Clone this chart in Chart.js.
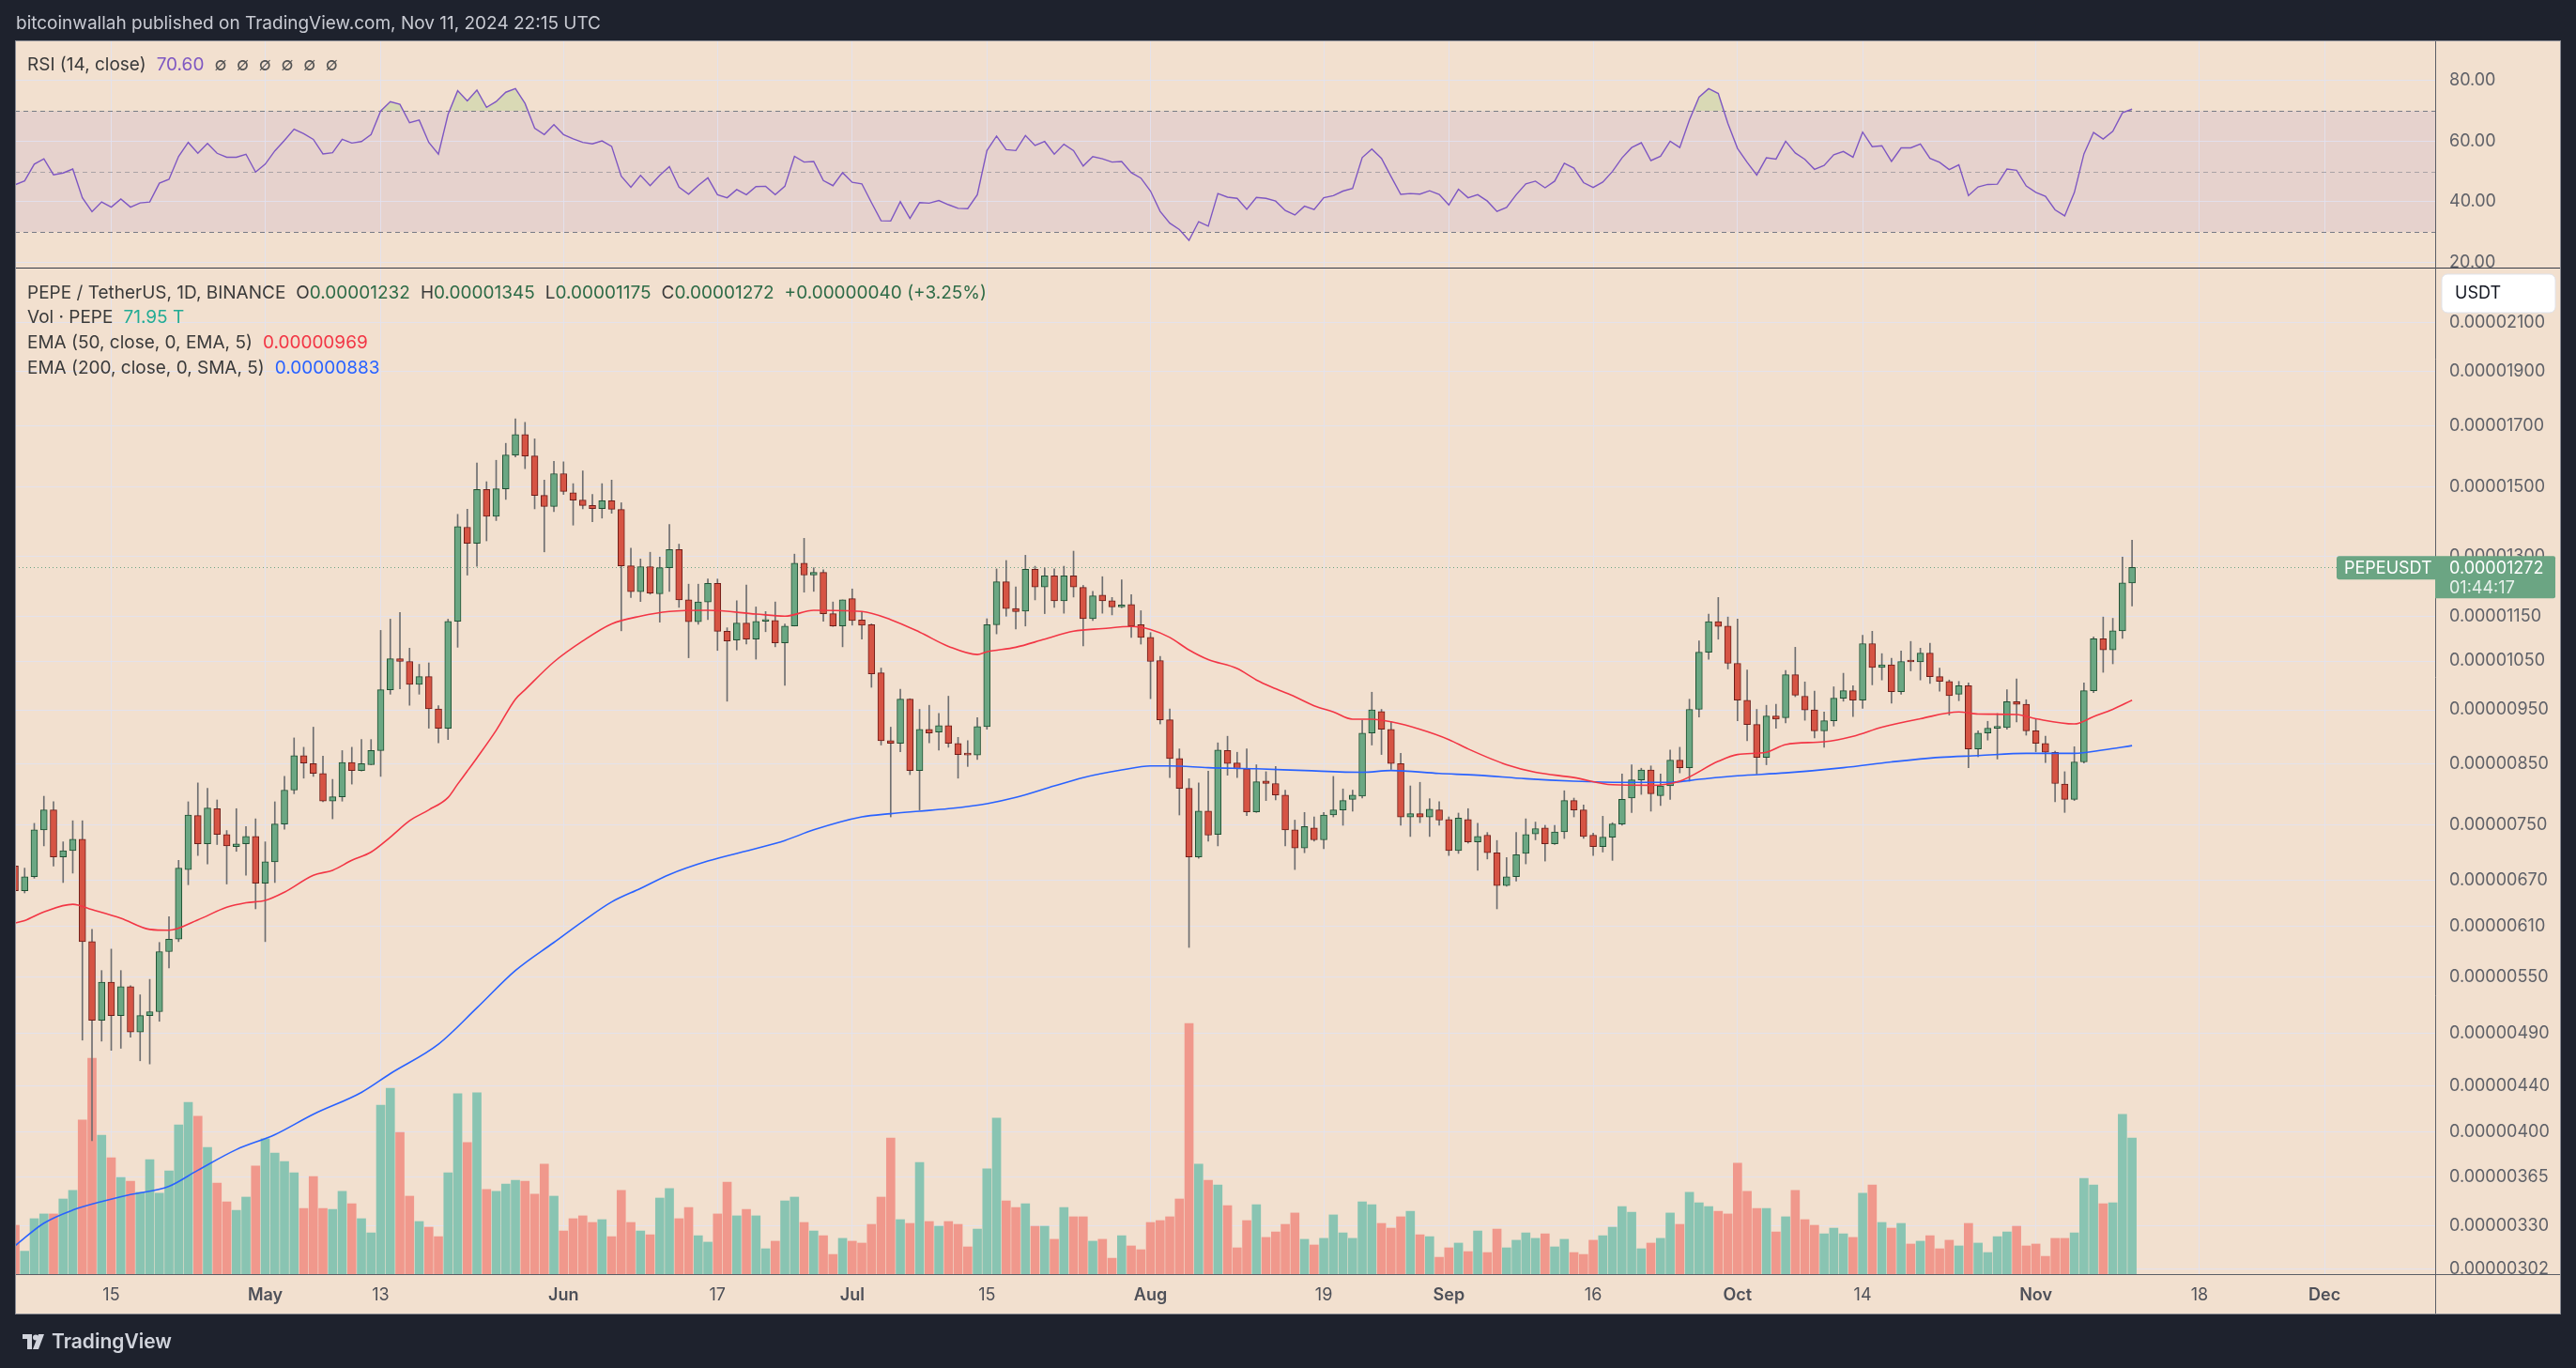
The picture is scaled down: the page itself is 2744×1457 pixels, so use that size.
<!DOCTYPE html>
<html>
<head>
<meta charset="utf-8">
<title>PEPE / TetherUS, 1D, BINANCE</title>
<script src="https://cdn.jsdelivr.net/npm/chart.js@4.4.1/dist/chart.umd.min.js"></script>
<style>
  html, body { margin: 0; padding: 0; background: #1e222d; }
  body { width: 2744px; height: 1457px; position: relative; overflow: hidden; font-family: Inter, "Noto Sans", sans-serif; }
  #chart { position: absolute; left: 0; top: 0; }
  .txt { position: absolute; white-space: pre; font-size: 19px; line-height: 24px; color: #3a3a3a; }
  .header { left: 17px; top: 13px; color: #c8cad2; }
  .gap { margin-left: 11px; }
  .up { color: #2e6b47; }
  .footer { left: 24px; top: 1417px; color: #d1d4dc; font-size: 21px; font-weight: 600; display: flex; align-items: center; }
  .footer svg { margin-right: 7px; }
</style>
</head>
<body>
<canvas id="chart" width="2744" height="1457"></canvas>

<div class="txt header">bitcoinwallah published on TradingView.com, Nov 11, 2024 22:15 UTC</div>
<div class="txt" style="left:29px; top:57px;">RSI (14, close)<span class="gap" style="color:#7e57c2">70.60</span><span class="gap" style="color:#555">∅  ∅  ∅  ∅  ∅  ∅</span></div>
<div class="txt" style="left:29px; top:300px;">PEPE / TetherUS, 1D, BINANCE<span class="gap">O</span><span class="up">0.00001232</span><span class="gap">H</span><span class="up">0.00001345</span><span class="gap">L</span><span class="up">0.00001175</span><span class="gap">C</span><span class="up">0.00001272</span><span class="gap up">+0.00000040 (+3.25%)</span></div>
<div class="txt" style="left:29px; top:326px;">Vol · PEPE<span class="gap" style="color:#22ab94">71.95 T</span></div>
<div class="txt" style="left:29px; top:353px;">EMA (50, close, 0, EMA, 5)<span class="gap" style="color:#f23645">0.00000969</span></div>
<div class="txt" style="left:29px; top:380px;">EMA (200, close, 0, SMA, 5)<span class="gap" style="color:#2962ff">0.00000883</span></div>
<div class="txt footer">
  <svg width="24" height="16" viewBox="0 0 24 16"><path d="M0 0h10v16H5V5H0z" fill="#d1d4dc"/><circle cx="14" cy="3.5" r="3" fill="#d1d4dc"/><path d="M17 0h6l-6 16h-6z" fill="#d1d4dc"/></svg>TradingView
</div>

<script>
// prices are in units of 0.00000001 USDT, one candle per day starting at firstDay
const UNIT = 1e-8;
const firstDay = '2024-04-05';

const open = [
  690, 656, 675, 743, 774, 703, 712, 729, 591, 503, 544, 508, 539, 491, 508, 512, 579, 594, 685, 765,
  722, 776, 736, 718, 722, 733, 666, 696, 752, 806, 865, 851, 834, 788, 795, 853, 839, 849, 874, 990,
  1055, 1049, 1001, 1017, 952, 915, 1139, 1381, 1336, 1492, 1412, 1494, 1601, 1670, 1598, 1474, 1441, 1541, 1482, 1460,
  1444, 1435, 1458, 1432, 1276, 1210, 1274, 1205, 1271, 1319, 1190, 1138, 1185, 1231, 1116, 1096, 1135, 1098, 1139, 1141,
  1090, 1128, 1283, 1252, 1259, 1157, 1128, 1193, 1142, 1131, 1025, 892, 887, 971, 839, 913, 908, 920, 887, 867,
  866, 918, 1131, 1235, 1169, 1163, 1267, 1222, 1250, 1188, 1250, 1221, 1145, 1202, 1188, 1173, 1179, 1131, 1102, 1051,
  931, 860, 809, 703, 772, 736, 874, 852, 842, 771, 821, 817, 798, 743, 716, 746, 728, 766, 774, 791,
  796, 906, 947, 913, 851, 763, 768, 763, 774, 759, 712, 759, 725, 735, 709, 663, 675, 708, 737, 746,
  722, 740, 789, 774, 735, 718, 732, 752, 793, 823, 840, 797, 813, 857, 844, 951, 1069, 1138, 1128, 1045,
  969, 922, 862, 938, 935, 1021, 977, 950, 910, 929, 973, 988, 969, 1088, 1036, 1042, 986, 1049, 1048, 1067,
  1017, 1007, 981, 998, 877, 906, 915, 916, 966, 961, 910, 887, 871, 816, 791, 854, 988, 1099, 1074, 1117,
  1232
];
const high = [
  698, 687, 753, 796, 787, 725, 757, 757, 606, 557, 582, 557, 540, 530, 547, 590, 622, 698, 787, 818,
  809, 790, 742, 776, 748, 760, 725, 787, 829, 897, 880, 917, 864, 824, 874, 880, 894, 894, 1118, 1144,
  1160, 1078, 1043, 1046, 958, 1144, 1418, 1433, 1575, 1516, 1584, 1640, 1724, 1712, 1655, 1521, 1581, 1579, 1510, 1550,
  1477, 1510, 1521, 1452, 1323, 1294, 1312, 1299, 1389, 1334, 1229, 1229, 1242, 1242, 1124, 1188, 1227, 1173, 1162, 1185,
  1133, 1307, 1350, 1271, 1266, 1185, 1190, 1217, 1162, 1133, 1035, 917, 991, 972, 951, 959, 943, 977, 898, 892,
  935, 1145, 1268, 1290, 1222, 1304, 1275, 1271, 1268, 1275, 1315, 1226, 1211, 1248, 1196, 1240, 1203, 1164, 1113, 1060,
  952, 877, 825, 818, 838, 888, 900, 871, 877, 849, 837, 846, 806, 758, 770, 763, 770, 829, 808, 806,
  930, 985, 951, 927, 869, 813, 819, 792, 787, 763, 769, 776, 753, 739, 727, 702, 739, 760, 755, 750,
  750, 805, 793, 782, 738, 764, 754, 833, 849, 843, 847, 833, 875, 880, 971, 1094, 1156, 1196, 1149, 1144,
  1031, 951, 959, 961, 1030, 1080, 1006, 987, 946, 996, 1024, 998, 1107, 1116, 1066, 1056, 1072, 1093, 1078, 1089,
  1035, 1010, 1007, 1004, 910, 928, 943, 990, 1012, 970, 933, 900, 873, 837, 881, 1004, 1103, 1149, 1146, 1299,
  1345
];
const low = [
  649, 653, 673, 719, 690, 667, 680, 483, 393, 482, 473, 475, 486, 463, 460, 502, 560, 591, 664, 705,
  693, 721, 665, 711, 677, 632, 591, 667, 744, 800, 826, 829, 787, 760, 788, 816, 838, 849, 829, 981,
  992, 959, 981, 915, 888, 894, 1080, 1252, 1275, 1343, 1400, 1462, 1595, 1557, 1434, 1313, 1426, 1477, 1387, 1434,
  1397, 1407, 1421, 1117, 1196, 1186, 1204, 1137, 1211, 1172, 1057, 1132, 1143, 1073, 967, 1074, 1087, 1054, 1115, 1081,
  999, 1128, 1209, 1211, 1139, 1127, 1081, 1130, 1098, 995, 884, 763, 872, 832, 774, 888, 875, 880, 826, 846,
  858, 913, 1110, 1151, 1121, 1128, 1190, 1157, 1172, 1158, 1197, 1083, 1141, 1158, 1154, 1171, 1102, 1087, 972, 923,
  827, 766, 584, 701, 726, 719, 831, 827, 765, 770, 789, 790, 719, 685, 709, 726, 715, 763, 750, 772,
  793, 884, 867, 841, 750, 733, 754, 733, 750, 705, 708, 723, 684, 700, 632, 662, 669, 693, 728, 697,
  721, 730, 763, 730, 705, 710, 698, 750, 770, 799, 772, 781, 791, 835, 821, 936, 1054, 1098, 1033, 929,
  892, 833, 849, 915, 925, 976, 930, 897, 880, 919, 967, 937, 953, 1000, 1010, 963, 981, 1029, 1010, 1003,
  987, 940, 968, 844, 863, 893, 859, 913, 927, 902, 872, 853, 787, 770, 789, 852, 984, 1026, 1044, 1100,
  1175
];
const close = [
  656, 675, 743, 774, 703, 712, 729, 591, 503, 544, 508, 539, 491, 508, 512, 579, 594, 687, 766, 722,
  777, 736, 719, 722, 733, 666, 696, 752, 806, 865, 852, 834, 788, 795, 853, 839, 851, 874, 990, 1055,
  1049, 1001, 1017, 952, 915, 1139, 1383, 1336, 1492, 1412, 1494, 1601, 1670, 1598, 1474, 1441, 1541, 1486, 1460, 1444,
  1435, 1458, 1433, 1276, 1210, 1274, 1207, 1271, 1319, 1190, 1138, 1185, 1231, 1116, 1094, 1135, 1098, 1139, 1141, 1090,
  1128, 1283, 1252, 1259, 1157, 1128, 1190, 1141, 1130, 1023, 892, 887, 971, 839, 913, 906, 920, 887, 867, 866,
  918, 1131, 1235, 1169, 1162, 1267, 1222, 1250, 1188, 1250, 1222, 1145, 1200, 1188, 1173, 1178, 1128, 1102, 1049, 931,
  860, 809, 703, 772, 735, 875, 851, 842, 771, 820, 817, 798, 743, 716, 748, 728, 766, 774, 789, 798,
  906, 950, 913, 851, 763, 768, 763, 775, 758, 712, 761, 725, 733, 709, 663, 675, 706, 736, 745, 722,
  740, 789, 774, 733, 718, 732, 752, 791, 823, 840, 800, 813, 857, 844, 951, 1069, 1138, 1127, 1045, 969,
  922, 862, 938, 932, 1021, 979, 950, 910, 929, 973, 988, 969, 1088, 1036, 1042, 986, 1049, 1048, 1067, 1017,
  1007, 978, 998, 877, 906, 915, 917, 966, 961, 910, 887, 871, 817, 791, 854, 988, 1099, 1074, 1117, 1232,
  1272
];
// daily volume, trillions of PEPE
const volumeT = [
  25.8, 12.1, 29.3, 31.8, 31.8, 39.7, 44.2, 81.4, 114.1, 73.4, 61.5, 51.1, 49.1, 43.2, 60.5, 42.7, 54.6, 78.9, 90.8, 83.4,
  67.0, 48.1, 38.2, 33.7, 40.7, 57.1, 71.5, 64.0, 59.5, 53.6, 34.7, 51.6, 34.7, 34.2, 43.7, 37.2, 29.3, 21.8, 89.3, 98.2,
  74.9, 41.2, 27.8, 24.8, 19.8, 53.6, 95.3, 69.5, 95.8, 44.7, 43.7, 47.6, 49.6, 49.1, 42.2, 58.1, 41.2, 22.8, 29.3, 30.8,
  27.3, 28.8, 19.8, 44.2, 27.3, 22.8, 20.8, 40.2, 45.2, 29.3, 35.2, 20.3, 16.9, 31.8, 48.6, 30.8, 34.2, 30.8, 13.4, 17.4,
  38.7, 40.7, 27.3, 22.8, 20.3, 10.4, 18.9, 17.4, 16.4, 26.3, 40.7, 71.9, 28.8, 26.8, 59.0, 27.8, 25.3, 27.8, 26.3, 14.4,
  23.8, 55.6, 82.4, 38.7, 35.2, 37.2, 25.3, 25.3, 18.4, 35.2, 30.3, 30.3, 17.4, 18.4, 8.4, 20.3, 14.9, 12.9, 27.3, 28.3,
  30.3, 39.7, 132.5, 58.1, 49.6, 47.1, 36.2, 13.9, 28.3, 36.7, 19.4, 22.3, 26.3, 32.3, 18.4, 15.4, 18.9, 31.3, 21.8, 18.9,
  38.2, 36.7, 26.8, 24.3, 30.3, 33.2, 20.8, 19.8, 8.9, 13.9, 16.4, 11.9, 22.8, 11.4, 23.8, 13.9, 17.9, 21.8, 18.9, 21.3,
  14.4, 18.4, 11.4, 10.4, 17.9, 20.3, 24.8, 35.7, 32.7, 13.4, 16.4, 18.9, 32.3, 26.3, 43.2, 37.7, 35.7, 33.2, 31.8, 58.6,
  43.7, 34.7, 34.7, 22.3, 30.3, 44.2, 28.8, 25.8, 21.3, 24.3, 21.3, 19.4, 42.7, 47.1, 27.3, 24.3, 26.8, 15.9, 17.4, 20.3,
  13.4, 17.9, 14.9, 26.8, 16.4, 11.4, 19.8, 22.3, 25.3, 14.9, 15.9, 9.4, 18.9, 18.9, 21.8, 50.6, 47.1, 37.2, 37.7, 84.4,
  71.95
];
const rsi14 = [
  45.6, 46.9, 52.4, 54.2, 48.9, 49.5, 50.8, 41.3, 36.7, 39.9, 38.2, 40.9, 38.2, 39.6, 39.9, 46.1, 47.4, 55.0, 59.6, 56.0,
  59.3, 56.0, 54.7, 54.7, 55.7, 49.8, 52.4, 56.8, 60.3, 64.0, 62.5, 60.6, 55.8, 56.2, 60.6, 59.4, 59.9, 62.2, 70.0, 73.1,
  72.2, 66.1, 67.0, 59.6, 55.7, 68.9, 76.7, 73.3, 76.9, 71.2, 73.1, 76.2, 77.4, 72.5, 64.3, 62.2, 65.5, 62.2, 60.8, 59.6,
  59.1, 60.1, 58.3, 48.4, 44.8, 48.7, 45.3, 48.7, 51.6, 44.8, 42.5, 45.4, 47.9, 42.3, 41.3, 44.0, 42.3, 45.0, 45.1, 42.3,
  45.1, 55.0, 53.1, 53.3, 47.0, 45.3, 49.6, 46.4, 45.9, 39.7, 33.7, 33.6, 40.0, 34.5, 39.7, 39.5, 40.4, 39.0, 37.8, 37.7,
  42.3, 56.9, 61.7, 57.2, 56.9, 61.9, 58.6, 59.9, 55.7, 59.0, 56.9, 51.8, 54.9, 54.2, 53.1, 53.3, 49.6, 47.8, 43.5, 36.8,
  32.9, 30.8, 27.2, 33.4, 31.9, 42.7, 41.5, 41.1, 37.5, 41.4, 41.1, 40.2, 37.1, 35.6, 38.5, 37.4, 41.3, 42.0, 43.5, 44.4,
  54.6, 57.4, 54.3, 48.3, 42.4, 42.7, 42.5, 43.6, 42.4, 38.9, 44.1, 41.3, 42.3, 40.2, 36.8, 38.1, 42.3, 45.9, 46.8, 44.6,
  46.8, 52.7, 51.1, 46.3, 44.7, 46.5, 50.0, 54.5, 57.9, 59.5, 53.6, 55.0, 60.0, 57.9, 67.0, 74.6, 77.4, 75.8, 65.9, 57.6,
  53.0, 48.8, 54.5, 54.1, 60.0, 56.1, 54.0, 50.7, 52.0, 55.5, 56.6, 54.7, 63.0, 58.2, 58.5, 53.3, 57.8, 57.8, 59.1, 54.3,
  53.0, 50.6, 52.2, 42.0, 44.9, 45.7, 45.8, 50.8, 50.4, 45.2, 43.1, 41.8, 37.3, 35.3, 43.0, 55.8, 62.9, 60.7, 63.3, 69.4,
  70.6
];
// [day index, value]
const ema50Pts = [
  [0, 614], [1, 617], [3, 628], [6, 638], [8, 631], [11, 620], [14, 606], [16, 605], [19, 618], [22, 634],
  [24, 640], [26, 643], [28, 654], [31, 677], [33, 684], [35, 698], [37, 710], [39, 732], [41, 757], [43, 774],
  [45, 794], [46, 816], [47, 838], [48, 861], [50, 911], [52, 971], [53, 990], [56, 1048], [59, 1094], [62, 1133],
  [65, 1151], [68, 1162], [72, 1165], [77, 1156], [80, 1151], [83, 1165], [88, 1162], [91, 1143], [94, 1114], [97, 1082],
  [100, 1064], [101, 1070], [104, 1080], [107, 1098], [110, 1116], [113, 1122], [116, 1127], [118, 1120], [120, 1102], [122, 1074],
  [124, 1053], [127, 1034], [129, 1010], [131, 992], [133, 976], [135, 958], [137, 946], [139, 932], [141, 932], [143, 927],
  [146, 913], [149, 894], [151, 877], [155, 849], [158, 836], [162, 827], [166, 815], [170, 814], [173, 821], [177, 855],
  [179, 867], [182, 871], [184, 885], [188, 890], [191, 900], [194, 917], [198, 933], [202, 946], [204, 942], [208, 941],
  [210, 933], [214, 923], [216, 937], [218, 951], [220, 969]
];
const ema200Pts = [
  [0, 317], [3, 332], [6, 341], [9, 347], [12, 352], [16, 358], [19, 370], [23, 386], [27, 398], [31, 415],
  [36, 434], [39, 451], [44, 479], [48, 516], [52, 557], [56, 590], [59, 616], [62, 641], [65, 659], [68, 678],
  [72, 697], [77, 715], [80, 727], [83, 743], [88, 763], [91, 768], [94, 772], [97, 776], [101, 784], [104, 794],
  [108, 813], [111, 827], [115, 840], [118, 847], [120, 847], [124, 844], [129, 842], [134, 839], [140, 836], [143, 839],
  [148, 834], [152, 831], [157, 825], [162, 821], [167, 819], [172, 819], [175, 824], [179, 830], [184, 835], [190, 844],
  [195, 854], [200, 862], [204, 865], [209, 869], [214, 869], [217, 875], [220, 883]
];

const priceTicks = [2100, 1900, 1700, 1500, 1300, 1150, 1050, 950, 850, 750, 670, 610, 550, 490, 440, 400, 365, 330, 302];
const rsiTicks = [80, 60, 40, 20];
const timeTickDates = ['2024-04-15', '2024-05-01', '2024-05-13', '2024-06-01', '2024-06-17', '2024-07-01', '2024-07-15', '2024-08-01',
  '2024-08-19', '2024-09-01', '2024-09-16', '2024-10-01', '2024-10-14', '2024-11-01', '2024-11-18', '2024-12-01'];
const timeTickLabels = ['15', 'May', '13', 'Jun', '17', 'Jul', '15', 'Aug', '19', 'Sep', '16', 'Oct', '14', 'Nov', '18', 'Dec'];
const monthNames = ['May', 'Jun', 'Jul', 'Aug', 'Sep', 'Oct', 'Nov', 'Dec'];

const FONT = 'Inter, "Noto Sans", sans-serif';
const PANE_BG = '#f2e0cf';
const GRID = 'rgba(226, 226, 240, 0.85)';
const AXIS_TXT = '#5f6168';
const UP_BODY = '#6ba783', UP_EDGE = '#1f5032';
const DOWN_BODY = '#d65444', DOWN_EDGE = '#6e1e19';
const WICK = '#6e6e70';
const VOL_UP = '#89c4b2', VOL_DOWN = '#f0988c';
const LABEL_GREEN = '#6ba583';

const dayIndex = d => Math.round((Date.parse(d) - Date.parse(firstDay)) / 86400000);
const timeTickIdx = timeTickDates.map(dayIndex);
const days = close.map((_, i) => i);
const isUp = days.map(i => close[i] >= open[i]);

const tvOverlay = {
  id: 'tvOverlay',
  beforeDraw(chart) {
    const { ctx, chartArea: a } = chart;
    const r = chart.scales.rsi;
    ctx.save();
    ctx.fillStyle = PANE_BG;
    ctx.fillRect(16, 43, 2712, 1357);
    const y70 = r.getPixelForValue(70), y30 = r.getPixelForValue(30);
    ctx.fillStyle = 'rgba(126, 87, 194, 0.1)';
    ctx.fillRect(a.left, y70, a.right - a.left, y30 - y70);
    ctx.restore();
  },
  beforeDatasetsDraw(chart) {
    const { ctx, chartArea: a } = chart;
    const r = chart.scales.rsi, p = chart.scales.price;
    ctx.save();
    ctx.lineWidth = 1;
    ctx.setLineDash([5, 4]);
    [[70, '#787b86'], [50, 'rgba(120, 123, 134, 0.55)'], [30, '#787b86']].forEach(([v, col]) => {
      const y = Math.round(r.getPixelForValue(v)) + 0.5;
      ctx.strokeStyle = col;
      ctx.beginPath(); ctx.moveTo(a.left, y); ctx.lineTo(a.right, y); ctx.stroke();
    });
    // dotted line at the last close
    const yl = Math.round(p.getPixelForValue(close[close.length - 1])) + 0.5;
    ctx.setLineDash([1, 3]);
    ctx.strokeStyle = LABEL_GREEN;
    ctx.beginPath(); ctx.moveTo(a.left, yl); ctx.lineTo(a.right, yl); ctx.stroke();
    ctx.restore();
  },
  afterDraw(chart) {
    const { ctx, chartArea: a } = chart;
    const p = chart.scales.price;
    ctx.save();
    ctx.lineWidth = 1;
    ctx.setLineDash([]);
    // pane separator, time axis line, price scale line
    ctx.strokeStyle = '#363a45';
    ctx.beginPath(); ctx.moveTo(16, Math.round(p.top) + 0.5); ctx.lineTo(2728, Math.round(p.top) + 0.5); ctx.stroke();
    ctx.strokeStyle = '#5b5e66';
    ctx.beginPath(); ctx.moveTo(16, Math.round(a.bottom) + 0.5); ctx.lineTo(2728, Math.round(a.bottom) + 0.5); ctx.stroke();
    ctx.beginPath(); ctx.moveTo(Math.round(a.right) + 0.5, 43); ctx.lineTo(Math.round(a.right) + 0.5, 1400); ctx.stroke();
    ctx.strokeStyle = '#8a8c94';
    ctx.strokeRect(16.5, 43.5, 2711, 1356);

    // currency button
    ctx.fillStyle = '#ffffff';
    ctx.strokeStyle = '#e0e3eb';
    ctx.beginPath(); ctx.roundRect(2601, p.top + 7, 121, 41, 6); ctx.fill(); ctx.stroke();
    ctx.fillStyle = '#131722';
    ctx.font = '18px ' + FONT;
    ctx.textBaseline = 'middle';
    ctx.textAlign = 'left';
    ctx.fillText('USDT', 2615, p.top + 28);

    // last price labels
    const y = p.getPixelForValue(close[close.length - 1]);
    ctx.fillStyle = LABEL_GREEN;
    ctx.beginPath(); ctx.roundRect(2489, y - 12, 106, 25, [3, 0, 0, 3]); ctx.fill();
    ctx.beginPath(); ctx.roundRect(a.right, y - 12, 128, 45, [0, 2, 2, 0]); ctx.fill();
    ctx.fillStyle = '#ffffff';
    ctx.fillText('PEPEUSDT', 2497, y + 1);
    ctx.fillText((close[close.length - 1] * UNIT).toFixed(8), 2609, y + 1);
    ctx.fillStyle = 'rgba(255, 255, 255, 0.85)';
    ctx.fillText('01:44:17', 2609, y + 22);
    ctx.restore();
  }
};

new Chart(document.getElementById('chart'), {
  type: 'bar',
  data: {
    datasets: [
      {
        type: 'line', label: 'RSI', yAxisID: 'rsi',
        data: rsi14.map((v, i) => ({ x: i, y: v })),
        borderColor: '#7e57c2', borderWidth: 1.4, pointRadius: 0,
        fill: { target: { value: 70 }, above: 'rgba(120, 190, 80, 0.2)', below: 'rgba(0, 0, 0, 0)' },
        order: 0
      },
      {
        type: 'line', label: 'EMA 50', yAxisID: 'price',
        data: ema50Pts.map(([x, y]) => ({ x, y })),
        borderColor: '#f23645', borderWidth: 1.6, pointRadius: 0, cubicInterpolationMode: 'monotone',
        order: 1
      },
      {
        type: 'line', label: 'EMA 200', yAxisID: 'price',
        data: ema200Pts.map(([x, y]) => ({ x, y })),
        borderColor: '#2962ff', borderWidth: 1.6, pointRadius: 0, cubicInterpolationMode: 'monotone',
        order: 1
      },
      {
        label: 'Body', yAxisID: 'price', grouped: false,
        data: days.map(i => ({ x: i, y: [open[i], close[i]] })),
        backgroundColor: days.map(i => isUp[i] ? UP_BODY : DOWN_BODY),
        borderColor: days.map(i => isUp[i] ? UP_EDGE : DOWN_EDGE),
        borderWidth: 1, borderSkipped: false, minBarLength: 2, barThickness: 7,
        order: 2
      },
      {
        label: 'Wick', yAxisID: 'price', grouped: false,
        data: days.map(i => ({ x: i, y: [low[i], high[i]] })),
        backgroundColor: WICK, barThickness: 1,
        order: 3
      },
      {
        label: 'Volume', yAxisID: 'vol', grouped: false,
        data: volumeT.map((v, i) => ({ x: i, y: v })),
        backgroundColor: days.map(i => isUp[i] ? VOL_UP : VOL_DOWN),
        barThickness: 9,
        order: 5
      }
    ]
  },
  options: {
    responsive: false,
    animation: false,
    devicePixelRatio: 1,
    layout: { padding: { left: 16, top: 43, right: 16, bottom: 57 } },
    plugins: { legend: { display: false }, tooltip: { enabled: false } },
    scales: {
      x: {
        type: 'linear', position: 'bottom', min: 0, max: 251.5, offset: false,
        afterFit: s => { s.height = 43; },
        afterBuildTicks: s => { s.ticks = timeTickIdx.map(v => ({ value: v })); },
        grid: { color: GRID, drawTicks: false, offset: false },
        border: { display: false },
        ticks: {
          autoSkip: false, maxRotation: 0, padding: 12, color: '#4e5058',
          font: c => ({ family: FONT, size: 18, weight: monthNames.includes(timeTickLabels[c.index]) ? '600' : '400' }),
          callback: (v, i) => timeTickLabels[i]
        }
      },
      rsi: {
        type: 'linear', axis: 'y', position: 'right', stack: 'panes', stackWeight: 242,
        min: 18.2, max: 93.35,
        afterFit: s => { s.width = 134; },
        afterBuildTicks: s => { s.ticks = rsiTicks.map(v => ({ value: v })); },
        grid: { color: GRID, drawTicks: false },
        border: { display: false },
        ticks: { padding: 15, color: AXIS_TXT, font: { family: FONT, size: 18 }, callback: v => v.toFixed(2) }
      },
      price: {
        type: 'logarithmic', axis: 'y', position: 'right', stack: 'panes', stackWeight: 1072,
        min: 299.1, max: 2350.5,
        afterFit: s => { s.width = 134; },
        afterBuildTicks: s => { s.ticks = priceTicks.map(v => ({ value: v })); },
        grid: { color: GRID, drawTicks: false },
        border: { display: false },
        ticks: { autoSkip: false, padding: 15, color: AXIS_TXT, font: { family: FONT, size: 18 }, callback: v => (v * UNIT).toFixed(8) }
      },
      vol: { type: 'linear', axis: 'y', position: 'left', display: false, min: 0, max: 652 }
    }
  },
  plugins: [tvOverlay]
});
</script>
</body>
</html>
